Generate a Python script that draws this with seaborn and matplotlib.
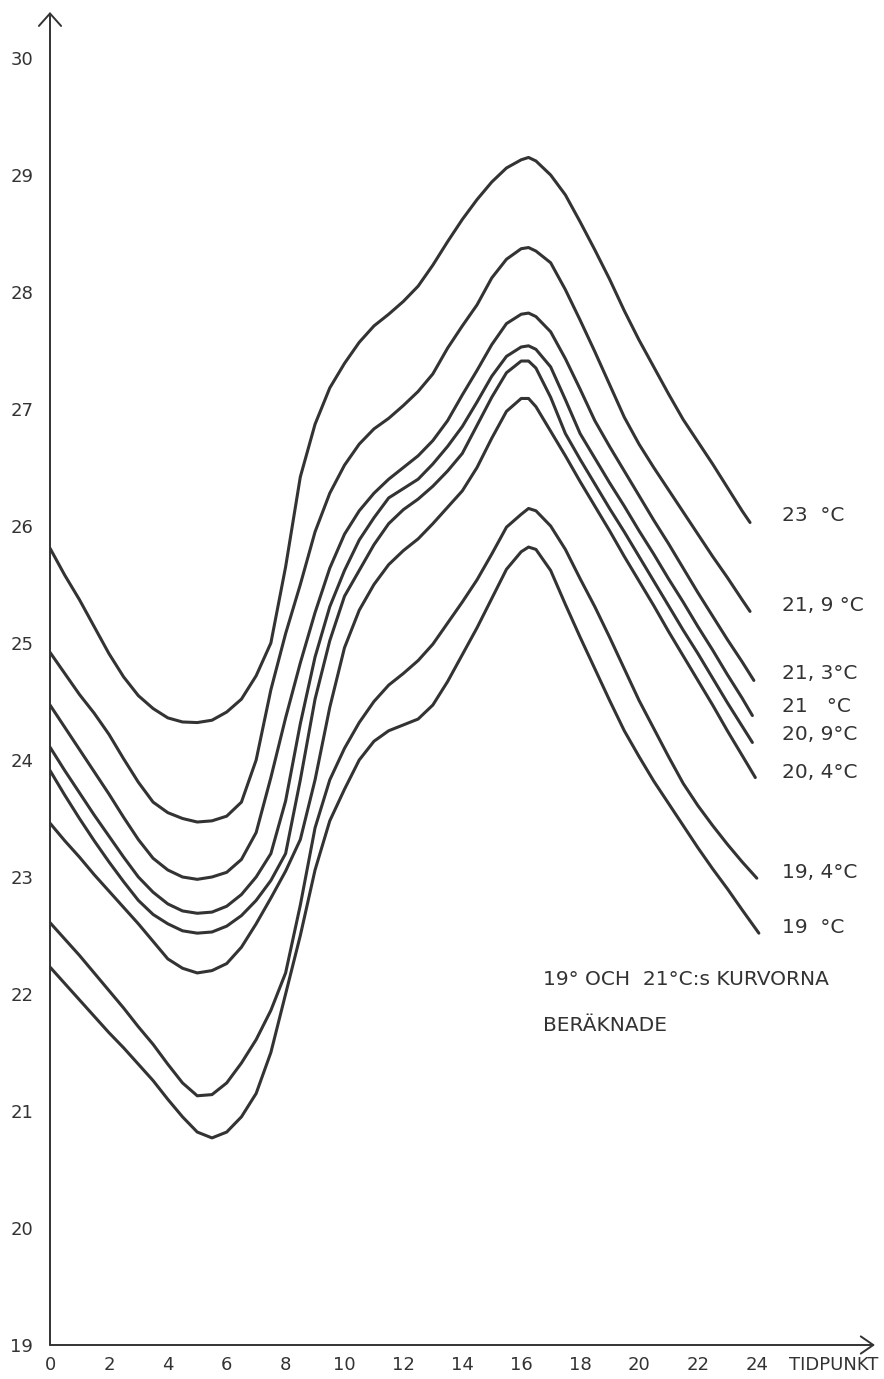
import matplotlib
matplotlib.use("Agg")
import matplotlib.pyplot as plt
import seaborn as sns
import pandas as pd

# ---- data ----
labels = ["23  °C", "21, 9 °C", "21, 3°C", "21   °C", "20, 9°C", "20, 4°C", "19, 4°C", "19  °C"]

hours = [0, 0.5, 1, 1.5, 2, 2.5, 3, 3.5, 4, 4.5, 5, 5.5, 6, 6.5, 7, 7.5, 8, 8.5,
         9, 9.5, 10, 10.5, 11, 11.5, 12, 12.5, 13, 13.5, 14, 14.5, 15, 15.5, 16,
         16.25, 16.5, 17, 17.5, 18, 18.5, 19, 19.5, 20, 20.5, 21, 21.5, 22, 22.5,
         23, 23.5]

temp_23 = [25.81, 25.58, 25.37, 25.14, 24.91, 24.71, 24.55, 24.44, 24.36, 24.325, 24.32, 24.34, 24.41, 24.52, 24.72, 25.0, 25.65, 26.42,
           26.87, 27.18, 27.39, 27.57, 27.71, 27.81, 27.92, 28.05, 28.23, 28.43, 28.62, 28.79, 28.94, 29.06, 29.13,
           29.15, 29.12, 29.0, 28.83, 28.6, 28.36, 28.11, 27.84, 27.59, 27.36, 27.13, 26.91, 26.72, 26.53, 26.33, 26.13]
temp_219 = [24.92, 24.74, 24.56, 24.4, 24.22, 24.01, 23.81, 23.64, 23.55, 23.5, 23.47, 23.48, 23.52, 23.64, 24.0, 24.6, 25.08, 25.5,
            25.95, 26.28, 26.52, 26.7, 26.83, 26.92, 27.03, 27.15, 27.3, 27.52, 27.71, 27.89, 28.12, 28.28, 28.37,
            28.38, 28.35, 28.25, 28.02, 27.76, 27.49, 27.21, 26.93, 26.7, 26.5, 26.31, 26.12, 25.93, 25.74, 25.56, 25.37]
temp_213 = [24.47, 24.28, 24.09, 23.9, 23.71, 23.51, 23.32, 23.16, 23.06, 23.0, 22.98, 23.0, 23.04, 23.15, 23.38, 23.85, 24.36, 24.83,
            25.26, 25.64, 25.93, 26.13, 26.28, 26.4, 26.5, 26.6, 26.73, 26.9, 27.12, 27.33, 27.55, 27.73, 27.81,
            27.82, 27.79, 27.66, 27.43, 27.17, 26.9, 26.68, 26.47, 26.26, 26.05, 25.85, 25.64, 25.43, 25.23, 25.03, 24.84]
temp_21 = [24.11, 23.91, 23.72, 23.53, 23.35, 23.17, 23.0, 22.87, 22.77, 22.71, 22.69, 22.7, 22.75, 22.85, 23.0, 23.2, 23.65, 24.31,
           24.88, 25.31, 25.62, 25.88, 26.07, 26.24, 26.32, 26.4, 26.53, 26.68, 26.85, 27.06, 27.28, 27.45, 27.53,
           27.54, 27.51, 27.36, 27.08, 26.79, 26.58, 26.37, 26.17, 25.96, 25.76, 25.55, 25.35, 25.14, 24.94, 24.73, 24.53]
temp_209 = [23.91, 23.7, 23.5, 23.31, 23.13, 22.96, 22.8, 22.68, 22.6, 22.54, 22.52, 22.53, 22.58, 22.67, 22.8, 22.97, 23.2, 23.83,
            24.52, 25.02, 25.4, 25.62, 25.84, 26.02, 26.14, 26.23, 26.34, 26.47, 26.62, 26.86, 27.1, 27.31, 27.41,
            27.41, 27.35, 27.1, 26.79, 26.57, 26.36, 26.15, 25.95, 25.74, 25.53, 25.32, 25.11, 24.91, 24.7, 24.49, 24.29]
temp_204 = [23.46, 23.31, 23.17, 23.02, 22.88, 22.74, 22.6, 22.45, 22.3, 22.22, 22.18, 22.2, 22.26, 22.4, 22.6, 22.82, 23.05, 23.32,
            23.83, 24.45, 24.96, 25.28, 25.5, 25.67, 25.79, 25.89, 26.02, 26.16, 26.3, 26.5, 26.75, 26.98, 27.09,
            27.09, 27.02, 26.81, 26.6, 26.38, 26.17, 25.96, 25.74, 25.53, 25.32, 25.1, 24.89, 24.68, 24.47, 24.25, 24.04]
temp_194 = [22.61, 22.47, 22.33, 22.18, 22.03, 21.88, 21.72, 21.57, 21.4, 21.24, 21.13, 21.14, 21.24, 21.41, 21.61, 21.86, 22.18, 22.76,
            23.42, 23.83, 24.1, 24.32, 24.5, 24.64, 24.74, 24.85, 24.99, 25.17, 25.35, 25.54, 25.76, 25.99, 26.1,
            26.15, 26.13, 26.0, 25.8, 25.55, 25.31, 25.05, 24.78, 24.51, 24.27, 24.03, 23.8, 23.61, 23.44, 23.28, 23.13]
temp_19 = [22.23, 22.09, 21.95, 21.81, 21.67, 21.54, 21.4, 21.26, 21.1, 20.95, 20.82, 20.77, 20.82, 20.95, 21.15, 21.5, 22.0, 22.5,
           23.06, 23.48, 23.75, 24.0, 24.16, 24.25, 24.3, 24.35, 24.47, 24.67, 24.9, 25.13, 25.38, 25.63, 25.78,
           25.82, 25.8, 25.62, 25.33, 25.05, 24.78, 24.51, 24.25, 24.03, 23.82, 23.63, 23.44, 23.25, 23.07, 22.9, 22.72]

end_hours = [23.77, 23.77, 23.9, 23.85, 23.85, 23.95, 24.0, 24.07]
end_temps = [26.03, 25.27, 24.68, 24.38, 24.15, 23.85, 22.99, 22.52]

label_y = [26.09, 25.32, 24.74, 24.46, 24.22, 23.89, 23.04, 22.57]

x_ticks = [0, 2, 4, 6, 8, 10, 12, 14, 16, 18, 20, 22, 24]
y_ticks = [19, 20, 21, 22, 23, 24, 25, 26, 27, 28, 29, 30]

all_temps = [temp_23, temp_219, temp_213, temp_21, temp_209, temp_204, temp_194, temp_19]

rows = []
for lab, ts, eh, et in zip(labels, all_temps, end_hours, end_temps):
    for h, t in zip(hours + [eh], ts + [et]):
        rows.append({"curve": lab, "hour": h, "temp": t})
df = pd.DataFrame(rows)

# ---- drawing ----
sns.set_style("white")
plt.rcParams['font.family'] = ['DejaVu Sans']
ink = "#333333"

fig = plt.figure(figsize=(8.84, 13.79), dpi=100)
W, H = 884, 1379
px_per_h = 29.45
px_per_deg = 117.0
left_px, right_px = 50, 875
bottom_px, top_px = 1345, 12
ax = fig.add_axes([left_px / W, (H - bottom_px) / H,
                   (right_px - left_px) / W, (bottom_px - top_px) / H])
ax.set_xlim(0, (right_px - left_px) / px_per_h)
ax.set_ylim(19, 19 + (bottom_px - top_px) / px_per_deg)

sns.lineplot(data=df, x="hour", y="temp", units="curve", estimator=None,
             sort=False, color=ink, linewidth=2.2, ax=ax, legend=False)
for ln in ax.get_lines():
    ln.set_solid_joinstyle("round")
    ln.set_solid_capstyle("round")

for lab, y in zip(labels, label_y):
    ax.text(24.85, y, lab, fontsize=14.5, color=ink, va="center", ha="left")

ax.text(16.75, 22.12, "19° OCH  21°C:s KURVORNA", fontsize=14.5, color=ink,
        va="center", ha="left")
ax.text(16.75, 21.73, "BERÄKNADE", fontsize=14.5, color=ink,
        va="center", ha="left")
ax.text(25.1, 18.83, "TIDPUNKT", fontsize=13, color=ink, va="center",
        ha="left", clip_on=False)

for s in ax.spines.values():
    s.set_visible(False)
ax.grid(False)
xmax = ax.get_xlim()[1]
ymax = ax.get_ylim()[1]
ax.annotate("", xy=(xmax, 19), xytext=(0, 19),
            arrowprops=dict(arrowstyle="->,head_length=0.9,head_width=0.62",
                            color=ink, lw=1.4, shrinkA=0, shrinkB=0),
            annotation_clip=False)
ax.annotate("", xy=(0, ymax), xytext=(0, 19),
            arrowprops=dict(arrowstyle="->,head_length=0.9,head_width=0.8",
                            color=ink, lw=1.4, shrinkA=0, shrinkB=0),
            annotation_clip=False)

ax.set_xticks(x_ticks)
ax.set_yticks(y_ticks)
ax.set_xticklabels([str(v) for v in x_ticks])
ax.set_yticklabels([str(v) for v in y_ticks])
ax.tick_params(axis="both", direction="inout", length=8, width=1.3,
               colors=ink, labelsize=13, labelcolor=ink)
ax.tick_params(axis="x", pad=4)
ax.tick_params(axis="y", pad=8)
ax.set_xlabel("")
ax.set_ylabel("")

fig.savefig("out.png", dpi=100, facecolor="white")
